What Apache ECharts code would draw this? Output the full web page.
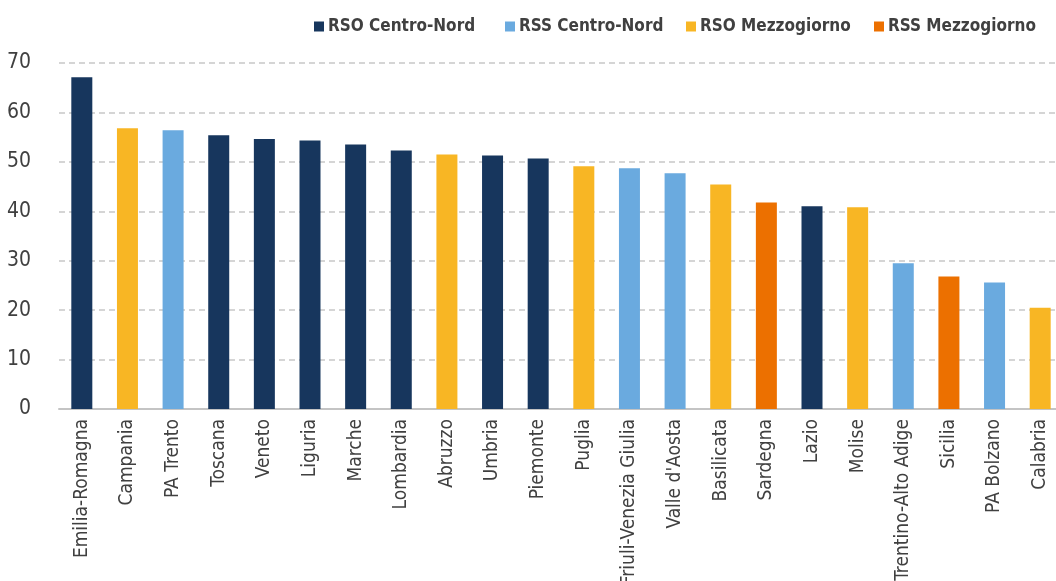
<!DOCTYPE html>
<html>
<head>
<meta charset="utf-8">
<script src="https://cdn.jsdelivr.net/npm/echarts@6/dist/echarts.min.js"></script>
<style>
  html, body { margin: 0; padding: 0; background: #ffffff; }
  #chart { width: 1056px; height: 581px; }
</style>
</head>
<body>
<div id="chart"></div>
<script>
// Regions ordered by value
const categories = [
  'Emilia-Romagna', 'Campania', 'PA Trento', 'Toscana', 'Veneto', 'Liguria',
  'Marche', 'Lombardia', 'Abruzzo', 'Umbria', 'Piemonte', 'Puglia',
  'Friuli-Venezia Giulia', "Valle d'Aosta", 'Basilicata', 'Sardegna', 'Lazio',
  'Molise', 'Trentino-Alto Adige', 'Sicilia', 'PA Bolzano', 'Calabria'
];
const values = [
  67.1, 56.8, 56.4, 55.4, 54.6, 54.3,
  53.5, 52.3, 51.5, 51.3, 50.7, 49.1,
  48.7, 47.7, 45.4, 41.8, 41.0,
  40.8, 29.5, 26.8, 25.6, 20.5
];
// Group of each region (index into groupNames)
const groups = [
  0, 2, 1, 0, 0, 0,
  0, 0, 2, 0, 0, 2,
  1, 1, 2, 3, 0,
  2, 1, 3, 1, 2
];
const groupNames = ['RSO Centro-Nord', 'RSS Centro-Nord', 'RSO Mezzogiorno', 'RSS Mezzogiorno'];
const groupColors = ['#17365d', '#6aaadf', '#f8b624', '#ec7000'];
const yTicks = { min: 0, max: 70, interval: 10 };

const FONT = "'Liberation Sans Narrow', 'DejaVu Sans Condensed', 'Roboto', sans-serif";
const TEXT = '#404040';
const legendLeft = [314, 505, 686, 874];

// One stacked series per group so each keeps its own legend entry
const series = groupNames.map((name, g) => ({
  name: name,
  type: 'bar',
  stack: 'all',
  barWidth: 21,
  itemStyle: { color: groupColors[g] },
  data: values.map((v, i) => (groups[i] === g ? v : '-'))
}));

// One legend block per group, placed side by side
const legends = groupNames.map((name, g) => ({
  data: [name],
  left: legendLeft[g],
  top: 18,
  padding: 0,
  itemWidth: 10,
  itemHeight: 10,
  itemGap: 0,
  icon: 'rect',
  textStyle: { fontFamily: FONT, fontSize: 17, fontWeight: 'bold', color: TEXT, padding: [0, 0, 0, -1] }
}));

const chart = echarts.init(document.getElementById('chart'), null, { renderer: 'canvas' });
chart.setOption({
  animation: false,
  textStyle: { fontFamily: FONT },
  legend: legends,
  grid: { left: 59, top: 63, width: 1004, height: 346, containLabel: false, outerBoundsMode: 'none' },
  xAxis: {
    type: 'category',
    data: categories,
    axisTick: { show: false },
    axisLine: { lineStyle: { color: '#c4c4c4', width: 2 } },
    axisLabel: {
      interval: 0,
      rotate: 90,
      margin: 10,
      fontFamily: FONT,
      fontSize: 19,
      color: TEXT
    }
  },
  yAxis: {
    type: 'value',
    min: yTicks.min,
    max: yTicks.max,
    interval: yTicks.interval,
    axisLine: { show: false },
    axisTick: { show: false },
    axisLabel: { fontFamily: FONT, fontSize: 21, color: TEXT, margin: 28 },
    splitLine: { lineStyle: { color: '#c8c8c8', width: 1.5, type: [6, 4] } }
  },
  series: series
});
</script>
</body>
</html>
